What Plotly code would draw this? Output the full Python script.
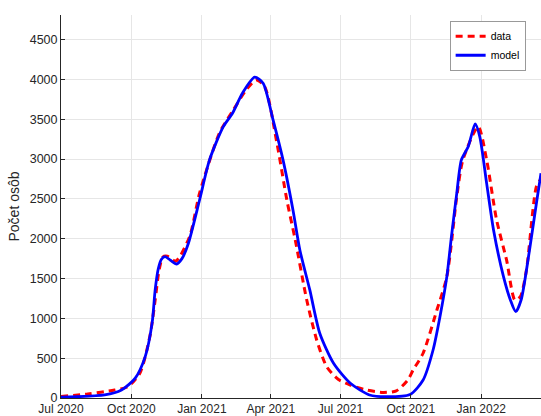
import plotly.graph_objects as go

data_dates = ["2020-07-01", "2020-08-05", "2020-09-09", "2020-09-26", "2020-10-12", "2020-10-25",
              "2020-11-01", "2020-11-06", "2020-11-11", "2020-11-17", "2020-11-28", "2020-12-16", "2020-12-29",
              "2021-01-24", "2021-02-10", "2021-02-28", "2021-03-13", "2021-03-24", "2021-04-09",
              "2021-04-22", "2021-05-03", "2021-05-18", "2021-05-31", "2021-06-13", "2021-06-28",
              "2021-07-14", "2021-08-04", "2021-08-26", "2021-09-12", "2021-09-27", "2021-10-04",
              "2021-10-17", "2021-11-04", "2021-11-17", "2021-11-30", "2021-12-08", "2021-12-28",
              "2022-01-08", "2022-01-21", "2022-02-03", "2022-02-14", "2022-02-21", "2022-03-01",
              "2022-03-14", "2022-03-20"]
data_values = [20, 50, 100, 140, 310, 770,
               1230, 1600, 1770, 1780, 1720, 2027, 2572,
               3329, 3600, 3870, 3995, 3911, 3204,
               2487, 1985, 1231, 729, 394, 235,
               163, 100, 70, 90, 226, 352,
               562, 1105, 1524, 2530, 2990, 3408,
               2990, 2236, 1734, 1231, 1273, 1608,
               2655, 2750]

model_dates = ["2020-07-01", "2020-08-27", "2020-09-18", "2020-10-06", "2020-10-19", "2020-10-28",
               "2020-11-01", "2020-11-05", "2020-11-09", "2020-11-14", "2020-11-21", "2020-11-29",
               "2020-12-06", "2020-12-14", "2020-12-29",
               "2021-01-11", "2021-01-29", "2021-02-10", "2021-02-23", "2021-03-11", "2021-03-22",
               "2021-04-04", "2021-04-17", "2021-04-30", "2021-05-09", "2021-05-22", "2021-06-04",
               "2021-06-22", "2021-07-14", "2021-08-08", "2021-08-30", "2021-09-30", "2021-10-17",
               "2021-10-30", "2021-11-08", "2021-11-17", "2021-11-23", "2021-11-30", "2021-12-06",
               "2021-12-15", "2021-12-24", "2021-12-30", "2022-01-08", "2022-01-17", "2022-01-30",
               "2022-02-08", "2022-02-15", "2022-02-22", "2022-03-05", "2022-03-14", "2022-03-20"]
model_values = [10, 38, 100, 250, 520, 940,
                1357, 1620, 1740, 1775, 1730, 1683,
                1750, 1930, 2487,
                2990, 3408, 3576, 3828, 4030, 3953,
                3492, 2990, 2362, 1859, 1357, 813,
                436, 185, 38, 16, 45, 226,
                603, 1021, 1524, 2027, 2572, 2990,
                3158, 3442, 3283, 2696, 2111, 1524,
                1231, 1084, 1231, 1859, 2446, 2823]

y_ticks = [0, 500, 1000, 1500, 2000, 2500, 3000, 3500, 4000, 4500]

fig = go.Figure()
fig.add_trace(go.Scatter(x=data_dates, y=data_values, mode="lines", name="data",
                         line=dict(color="#ff0000", width=3, dash="7px,5px", shape="spline", smoothing=0.7)))
fig.add_trace(go.Scatter(x=model_dates, y=model_values, mode="lines", name="model",
                         line=dict(color="#0000ff", width=2.8, shape="spline", smoothing=0.7)))

font = "Liberation Sans, Arial, sans-serif"
fig.update_layout(
    width=541, height=416,
    margin=dict(l=61, r=0, t=15, b=18, autoexpand=False),
    paper_bgcolor="white", plot_bgcolor="white",
    font=dict(family=font, size=12.5, color="#262626"),
    showlegend=True,
    legend=dict(x=0.968, y=0.985, xanchor="right", yanchor="top",
                bgcolor="white", bordercolor="#999999", borderwidth=1,
                font=dict(size=10.5, color="#000000"), tracegroupgap=0,
                itemwidth=30),
    xaxis=dict(range=["2020-07-01", "2022-03-20"], dtick="M3", tick0="2020-07-01",
               tickformat="%b %Y", ticks="inside", ticklen=4, tickcolor="#262626",
               showline=True, linecolor="#262626", linewidth=1, automargin=False,
               showgrid=True, gridcolor="#e6e6e6", gridwidth=1, zeroline=False,
               ticklabelstandoff=0, tickfont=dict(size=12)),
    yaxis=dict(range=[0, 4810], tickvals=y_ticks, ticks="inside", ticklen=4, tickcolor="#262626",
               showline=True, linecolor="#262626", linewidth=1, automargin=False,
               showgrid=True, gridcolor="#e6e6e6", gridwidth=1, zeroline=False,
               title=dict(text="Počet osôb", font=dict(size=14), standoff=6),
               tickfont=dict(size=12.5)),
)

fig.write_html("out.html", config={"displayModeBar": False},
               post_script="document.body.style.margin='0';document.body.style.overflow='hidden';")
